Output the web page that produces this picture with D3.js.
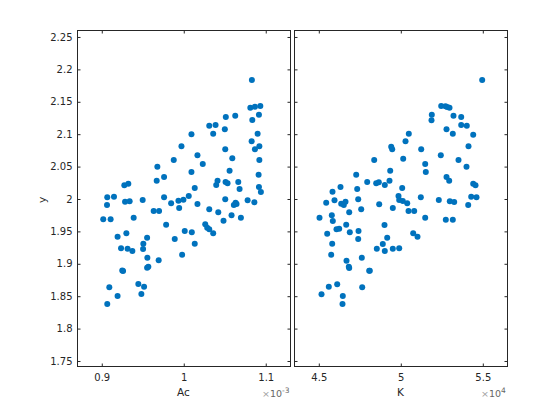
<!DOCTYPE html>
<html><head><meta charset="utf-8">
<script src="https://cdn.jsdelivr.net/npm/d3@7"></script>
<style>body{margin:0;background:#fff} svg{display:block}</style>
</head><body><svg id="c" width="560" height="420"></svg>
<script>
// Left panel: Ac (in units of 1e-3) vs y
const acValues = [1.0831,1.0812,1.0868,1.0934,1.0917,1.0836,1.0513,1.0628,1.0311,1.0388,1.0501,1.0094,1.0359,1.0901,1.0828,1.0922,1.0868,0.9972,1.0506,1.0167,1.0592,0.9878,1.0232,1.0922,0.9678,1.0094,1.0559,1.0913,0.9760,0.9670,0.9275,0.9324,1.0412,1.0396,1.0510,1.0534,1.0665,1.0134,1.0681,1.0917,1.0941,
0.9067,0.9149,0.9064,0.9284,0.9340,0.9499,0.9760,0.9846,0.9935,0.9996,1.0061,0.9944,1.0167,1.0311,1.0421,1.0506,1.0611,1.0632,1.0644,1.0583,1.0697,1.0779,1.0861,0.9018,0.9108,0.9389,0.9633,0.9699,0.9785,0.9193,0.9300,0.9553,0.9507,0.9235,0.9315,0.9373,0.9504,0.9556,0.9553,0.9568,0.9694,0.9890,1.0012,1.0098,1.0134,0.9980,1.0262,1.0286,1.0311,1.0359,1.0485,0.9250,0.9260,0.9092,0.9193,0.9067,0.9446,0.9516,0.9483];
const acY = [2.1836,2.1409,2.1424,2.1435,2.1301,2.1219,2.1265,2.1285,2.1131,2.1142,2.1076,2.0998,2.1008,2.1008,2.0890,2.0813,2.0767,2.0813,2.0767,2.0674,2.0628,2.0602,2.0540,2.0602,2.0498,2.0417,2.0437,2.0375,2.0340,2.0282,2.0211,2.0236,2.0282,2.0216,2.0262,2.0242,2.0262,2.0170,2.0154,2.0185,2.0108,
2.0026,2.0035,1.9907,1.9958,1.9964,1.9985,2.0026,1.9934,1.9974,1.9989,2.0046,1.9861,1.9923,1.9841,1.9795,1.9995,1.9907,1.9943,1.9923,1.9748,1.9711,1.9980,1.9949,1.9687,1.9687,1.9711,1.9815,1.9815,1.9603,1.9418,1.9471,1.9403,1.9310,1.9239,1.9233,1.9198,1.9228,1.9094,1.8940,1.8955,1.9054,1.9383,1.9506,1.9486,1.9310,1.9140,1.9610,1.9557,1.9532,1.9471,1.9665,1.8898,1.8890,1.8637,1.8503,1.8380,1.8688,1.8647,1.8534];
// Right panel: K (in units of 1e4) vs y
const kValues = [5.4963,5.2463,5.2726,5.2829,5.2970,5.1890,5.1872,5.3213,5.3683,5.3683,5.4024,5.2787,5.3171,5.4415,5.0488,5.0287,4.9415,4.9476,5.1244,5.4128,5.2439,5.0146,4.8378,5.3518,5.1488,5.4006,4.9354,5.1524,4.7280,5.2787,5.2951,4.7951,4.8500,4.8659,4.9311,4.9024,4.6323,4.5835,4.7341,5.0085,5.4415,5.4555,
4.5451,4.5957,4.6366,4.6524,4.6628,4.7402,4.8683,4.9512,4.9860,4.9902,5.0122,5.0390,5.1220,5.2317,5.2988,5.3256,5.4110,5.4293,5.4616,4.7585,4.6854,5.0470,5.0817,5.1488,5.2744,5.3171,4.5043,4.5793,4.5854,4.6671,4.6079,4.6244,4.5512,4.6890,4.7421,4.9006,4.7402,4.9171,5.0756,5.1018,4.5817,4.5756,4.8902,4.8537,4.9024,4.9512,4.9902,4.7622,4.6689,4.6829,4.6854,4.8073,4.8110,4.5610,4.6122,4.7646,4.5165,4.6463,4.6445];
const kY = [2.1836,2.1435,2.1430,2.1420,2.1409,2.1301,2.1215,2.1285,2.1265,2.1142,2.1131,2.1076,2.1008,2.0992,2.1008,2.0890,2.0807,2.0767,2.0767,2.0813,2.0674,2.0622,2.0602,2.0602,2.0540,2.0498,2.0437,2.0417,2.0375,2.0340,2.0282,2.0262,2.0242,2.0258,2.0282,2.0216,2.0185,2.0113,2.0154,2.0170,2.0236,2.0211,
1.9943,1.9980,1.9927,1.9907,1.9958,1.9995,1.9918,1.9861,2.0046,1.9985,1.9969,1.9934,2.0026,1.9985,1.9964,1.9954,1.9907,2.0035,2.0026,1.9841,1.9795,1.9815,1.9815,1.9711,1.9681,1.9681,1.9711,1.9748,1.9660,1.9603,1.9532,1.9542,1.9465,1.9486,1.9506,1.9599,1.9383,1.9403,1.9471,1.9418,1.9310,1.9140,1.9306,1.9233,1.9198,1.9233,1.9239,1.9094,1.9048,1.8955,1.8935,1.8894,1.8894,1.8647,1.8684,1.8637,1.8529,1.8503,1.8380];

const yTicks = [1.75,1.8,1.85,1.9,1.95,2,2.05,2.1,2.15,2.2,2.25];
const yTickLabels = ["1.75","1.8","1.85","1.9","1.95","2","2.05","2.1","2.15","2.2","2.25"];
const acTicks = [0.9,1,1.1];
const acTickLabels = ["0.9","1","1.1"];
const kTicks = [4.5,5,5.5];
const kTickLabels = ["4.5","5","5.5"];
const acExponent = "-3";
const kExponent = "4";

const svg = d3.select("#c");
const FONT = "DejaVu Sans";
const AX = "#262626";
const plotTop = 30.5, plotBottom = 366.5;
const y = d3.scaleLinear().domain([1.7415, 2.2600]).range([plotBottom, plotTop]);

const panels = [
  {xs: acValues, ys: acY, ticks: acTicks, labels: acTickLabels, dom: [0.8704, 1.1302], range: [77.5, 290.5], name: "Ac", exp: acExponent, yLabels: true, expX: 262},
  {xs: kValues, ys: kY, ticks: kTicks, labels: kTickLabels, dom: [4.3518, 5.6506], range: [294.5, 507.5], name: "K", exp: kExponent, yLabels: false, expX: 481}
];

panels.forEach(p => {
  const x = d3.scaleLinear().domain(p.dom).range(p.range);
  const g = svg.append("g");
  const style = sel => {
    sel.select(".domain").remove();
    sel.attr("font-family", FONT).attr("font-size", 10);
    sel.selectAll("line").attr("stroke", AX);
    sel.selectAll("text").attr("fill", AX);
  };
  g.append("g").attr("transform", `translate(0,${plotBottom})`)
    .call(d3.axisBottom(x).tickValues(p.ticks).tickSize(-3).tickPadding(7).tickFormat((d, i) => p.labels[i])).call(style);
  g.append("g").attr("transform", `translate(0,${plotTop})`)
    .call(d3.axisTop(x).tickValues(p.ticks).tickSize(-3).tickFormat("")).call(style);
  g.append("g").attr("transform", `translate(${p.range[0]},0)`)
    .call(d3.axisLeft(y).tickValues(yTicks).tickSize(-3).tickPadding(5).tickFormat((d, i) => p.yLabels ? yTickLabels[i] : "")).call(style);
  g.append("g").attr("transform", `translate(${p.range[1]},0)`)
    .call(d3.axisRight(y).tickValues(yTicks).tickSize(-3).tickFormat("")).call(style);
  g.append("rect").attr("x", p.range[0]).attr("y", plotTop)
    .attr("width", p.range[1] - p.range[0]).attr("height", plotBottom - plotTop)
    .attr("fill", "none").attr("stroke", AX).attr("stroke-width", 1);

  g.append("g").selectAll("circle").data(p.xs.map((v, i) => [v, p.ys[i]])).join("circle")
    .attr("cx", d => x(d[0])).attr("cy", d => y(d[1])).attr("r", 3).attr("fill", "#0072BD");

  g.append("text").attr("x", (p.range[0] + p.range[1]) / 2 - 0.5).attr("y", 396)
    .attr("text-anchor", "middle").attr("font-family", FONT).attr("font-size", 10.5).attr("fill", AX).text(p.name);

  const e = g.append("text").attr("x", p.expX).attr("y", 397).attr("font-family", FONT).attr("font-size", 9.5).attr("fill", "#666");
  e.append("tspan").attr("fill", "#a0a0a0").text("×");
  e.append("tspan").text("10");
  e.append("tspan").attr("dy", -4.5).attr("font-size", 7.5).text(p.exp);
});

svg.append("text").attr("transform", "translate(46,200) rotate(-90)").attr("text-anchor", "middle")
  .attr("font-family", FONT).attr("font-size", 10.5).attr("fill", AX).text("y");
</script></body></html>
